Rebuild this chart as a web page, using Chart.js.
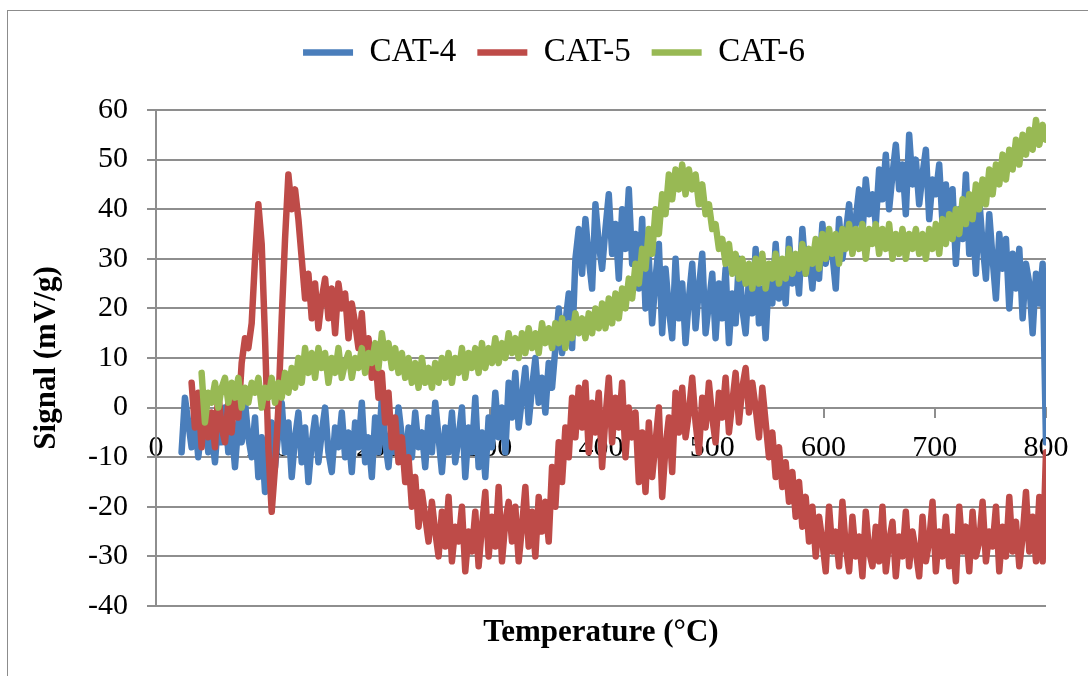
<!DOCTYPE html>
<html><head><meta charset="utf-8">
<script src="https://cdn.jsdelivr.net/npm/chart.js@4.4.1/dist/chart.umd.min.js"></script>
<style>
html,body{margin:0;padding:0;background:#fff;overflow:hidden;width:1088px;height:676px;}
#frame{position:absolute;left:7px;top:10px;width:1200px;height:800px;border:1px solid #8c8c8c;box-sizing:border-box;}
#wrap{position:absolute;left:0;top:0;width:1088px;height:676px;}
</style></head>
<body><div id="frame"></div><div id="wrap"><canvas id="c" width="1088" height="676"></canvas></div>
<script>
// Temperature sampling grid (°C): 23, 26, ... 800
const temperatures = [];
for (let t = 23; t <= 800; t += 3) temperatures.push(t);

const seriesNames = ['CAT-4', 'CAT-5', 'CAT-6'];
const xTicks = [0, 100, 200, 300, 400, 500, 600, 700, 800];
const yTicks = [-40, -30, -20, -10, 0, 10, 20, 30, 40, 50, 60];

const cat4 = [
  -9, 2, -3, -8, -2, -10, -4, -1, -9, -5,
  -11, -2, -7, 0, -9, -4, -12, -3, -7, 1,
  -6, -10, -2, -14, -6, -17, -9, -3, -12, -5,
  1, -9, -3, -14, -6, -1, -11, -4, -15, -7,
  -2, -11, -5, 0, -9, -13, -4, -8, -1, -10,
  -5, -13, -3, -8, 1, -11, -6, -14, -2, -9,
  2, -7, -12, -3, -9, 0, -6, -13, -4, -10,
  -1, -8, -5, -12, -2, -9, 1, -6, -13, -4,
  -9, -1, -11, -6, 0, -14, -4, -9, 2, -12,
  -5, -14, -2, -8, 3, -6, 0, -9, 5, -2,
  7, -4, 2, 8, -3, 4, 10, 1, 6, -1,
  9, 4, 12, 20, 11, 17, 23, 12, 30, 36,
  27, 38, 30, 24, 41, 33, 28, 36, 43, 31,
  37, 26, 40, 32, 44, 29, 35, 24, 38, 20,
  30, 17, 26, 33, 15, 28, 20, 14, 30, 18,
  25, 13, 22, 29, 16, 24, 31, 15, 21, 27,
  14, 25, 18, 28, 13, 23, 17, 30, 20, 15,
  26, 19, 32, 17, 24, 14, 27, 21, 33, 22,
  29, 21, 34, 25, 30, 23, 36, 27, 31, 24,
  33, 26, 37, 29, 35, 31, 24, 38, 30, 35,
  41, 32, 38, 44, 35, 46, 39, 43, 37, 48,
  42, 51, 40, 47, 53, 44, 49, 39, 55, 45,
  50, 41, 47, 52, 38, 46, 43, 49, 37, 45,
  36, 44, 29, 40, 34, 47, 31, 38, 27, 42,
  33, 26, 39, 30, 22, 35, 28, 34, 20, 31,
  24, 32, 18, 29, 25, 15, 27, 21, 29, -7
];
const cat5 = [
  null, null, null, 5, -4, 3, -8, 2, -6, -1,
  -8, 3, -4, -7, 1, -5, 4, -2, 9, 14,
  12, 17, 30, 41, 33, 14, -8, -21, -12, 0,
  18, 34, 47, 40, 44, 38, 30, 22, 27, 18,
  25, 16, 22, 26, 18, 24, 15, 25, 20, 23,
  14, 21, 17, 12, 19, 9, 14, 6, 11, 2,
  7, -3, 3, -8, -2, -11, -6, -15, -10, -20,
  -14, -24, -17, -22, -27, -19, -25, -30, -21, -28,
  -18, -31, -24, -27, -20, -33, -25, -29, -21, -32,
  -24, -17, -30, -22, -28, -16, -31, -23, -19, -27,
  -20, -31, -24, -16, -28, -21, -30, -18, -25, -19,
  -27, -12, -20, -7, -15, -4, -10, 2, -6, 4,
  -4, 5, -9, 1, -5, 3, -12, -2, 6, -7,
  2, -4, 5, -10, 0, -6, -1, -15, -5, -17,
  -3, -14, -7, 0, -18, -8, -2, -13, 3, -5,
  4, -6, -1, 6, -3, -9, 2, -4, 5, -2,
  -7, 3, -2, 6, -5, 1, 7, -3, 4, 8,
  -1, 5, 0, -6, 4, -3, -10, -5, -14, -8,
  -16, -11, -19, -13, -22, -15, -24, -18, -27, -20,
  -30, -22, -27, -33, -20, -29, -25, -32, -19, -28,
  -33, -22, -30, -26, -34, -21, -29, -32, -24, -31,
  -20, -33, -27, -23, -34, -26, -30, -21, -32, -25,
  -29, -34, -22, -31, -27, -19, -33, -25, -30, -22,
  -32, -26, -35, -20, -29, -24, -33, -21, -30, -27,
  -19, -31, -25, -28, -20, -33, -24, -30, -18, -29,
  -23, -32, -26, -17, -29, -22, -31, -18, -31, -9
];
const cat6 = [
  null, null, null, null, null, null, 7, -3, 3, 1,
  5, 0, 4, 6, 1, 5, 2, 6, 0, 4,
  1, 5, 3, 6, 0, 4, 2, 6, 1, 5,
  2, 7, 3, 8, 4, 10, 5, 12, 7, 11,
  6, 12, 8, 11, 5, 10, 7, 12, 6, 9,
  11, 6, 10, 8, 12, 7, 11, 9, 13, 8,
  15, 10, 13, 8, 12, 7, 11, 6, 10, 5,
  9, 4, 10, 5, 8, 4, 9, 5, 10, 6,
  11, 5, 10, 7, 12, 6, 11, 8, 12, 7,
  13, 8, 12, 9, 14, 9, 13, 10, 15, 11,
  14, 10, 15, 11, 16, 12, 15, 11, 17, 13,
  16, 12, 17, 13, 18, 12, 17, 14, 19, 15,
  18, 14, 19, 15, 20, 16, 21, 16, 22, 17,
  23, 18, 24, 20, 26, 22, 29, 25, 32, 28,
  36, 31, 40, 35, 43, 39, 47, 42, 48, 44,
  49, 43, 48, 44, 47, 41, 45, 39, 41, 36,
  37, 32, 34, 29, 33, 27, 31, 26, 30, 25,
  29, 24, 30, 25, 31, 24, 29, 26, 31, 25,
  30, 26, 32, 27, 31, 28, 33, 27, 32, 29,
  34, 28, 35, 30, 36, 31, 35, 29, 36, 32,
  37, 31, 36, 32, 37, 30, 36, 33, 37, 31,
  36, 32, 37, 30, 35, 31, 36, 30, 35, 32,
  36, 31, 35, 30, 36, 32, 37, 31, 38, 33,
  39, 34, 40, 35, 42, 37, 43, 38, 45, 40,
  46, 41, 48, 43, 49, 45, 51, 46, 52, 48,
  54, 49, 55, 51, 56, 52, 58, 53, 57, 54
];

const colors = ['#4a7ebb', '#be4b48', '#98b954'];
const seriesValues = [cat4, cat5, cat6];
const drawOrder = [2, 1, 0]; // later series drawn on top, as in the source

function toPoints(values) {
  return temperatures.map((t, i) => ({ x: t, y: values[i] }));
}

const FONT = 'Liberation Serif';
const GRID = '#8e8e8e';

const legendSpacer = {
  id: 'legendSpacer',
  beforeInit(chart) {
    const lg = chart.legend;
    const orig = lg.fit;
    lg.fit = function () { orig.call(this); this.height += 31; };
  }
};

new Chart(document.getElementById('c'), {
  type: 'line',
  data: {
    datasets: seriesNames.map((name, i) => ({
      label: name,
      data: toPoints(seriesValues[i]),
      borderColor: colors[i],
      backgroundColor: colors[i],
      borderWidth: 6.5,
      borderCapStyle: 'round',
      borderJoinStyle: 'round',
      pointRadius: 0,
      tension: 0,
      order: drawOrder[i]
    }))
  },
  options: {
    responsive: false,
    animation: false,
    events: [],
    layout: { padding: { left: 62, right: 42, top: 15, bottom: 70 } },
    plugins: {
      legend: {
        position: 'top',
        labels: {
          usePointStyle: true,
          pointStyle: 'line',
          pointStyleWidth: 50,
          font: { family: FONT, size: 33 },
          color: '#000',
          padding: 21,
          sort: (a, b) => a.datasetIndex - b.datasetIndex
        }
      },
      tooltip: { enabled: false }
    },
    scales: {
      x: {
        type: 'linear',
        position: { y: 0 },
        min: xTicks[0],
        max: xTicks[xTicks.length - 1],
        afterBuildTicks(s) { s.ticks = xTicks.map(v => ({ value: v })); },
        ticks: { font: { family: FONT, size: 30 }, color: '#000', padding: 14, maxRotation: 0, autoSkip: false },
        grid: { drawOnChartArea: false, tickLength: 9, color: GRID, lineWidth: 2 },
        border: { color: GRID, width: 2 },
        title: { display: true, text: 'Temperature (°C)', font: { family: FONT, size: 31, weight: 'bold' }, color: '#000', padding: 0 },
        afterFit(s) { s.height = 244; }
      },
      y: {
        type: 'linear',
        min: yTicks[0],
        max: yTicks[yTicks.length - 1],
        afterBuildTicks(s) { s.ticks = yTicks.map(v => ({ value: v })); },
        ticks: { font: { family: FONT, size: 30 }, color: '#000', padding: 19 },
        grid: { color: GRID, lineWidth: 2, tickLength: 9 },
        border: { color: GRID, width: 2 },
        title: { display: true, text: 'Signal (mV/g)', font: { family: FONT, size: 31, weight: 'bold' }, color: '#000', padding: { top: -34, bottom: 0 } },
        afterFit(s) { s.width = 94; }
      }
    }
  },
  plugins: [legendSpacer]
});
</script>
</body></html>
